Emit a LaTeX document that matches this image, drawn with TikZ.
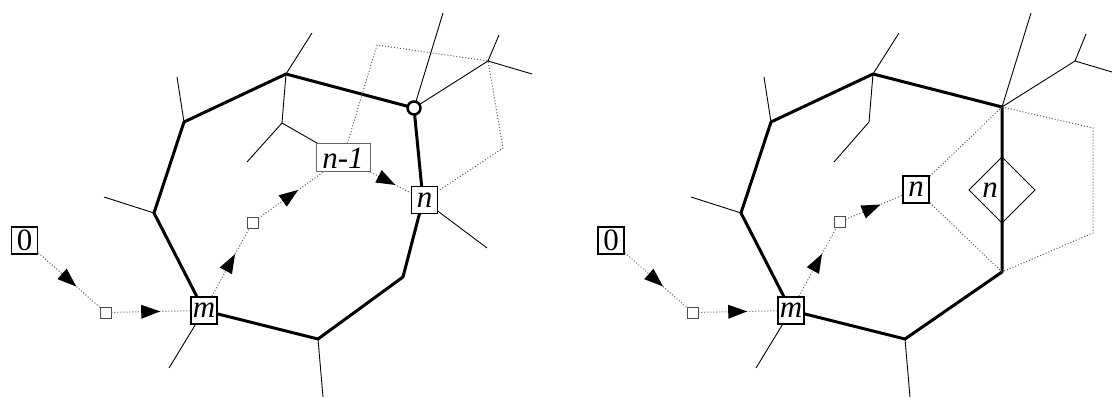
\documentclass[tikz,border=0pt]{standalone}
\usepackage{fontspec}
\setmainfont{Liberation Serif}
\usetikzlibrary{decorations.markings}
\begin{document}
\begin{tikzpicture}[x=1pt,y=-1pt,
  thickedge/.style={line width=3pt,line join=round},
  thinedge/.style={line width=0.9pt},
  dualedge/.style={draw=black!65,line width=1pt,dash pattern=on 1pt off 2pt},
  flow/.style={dualedge,postaction=decorate,decoration={markings,
      mark=at position 0.62 with {\fill[black] (0pt,0pt)--(-19pt,7pt)--(-19pt,-7pt)--cycle;}}},
  vbox/.style={draw,line width=1.8pt,fill=white,minimum width=26pt,minimum height=27pt,inner sep=1pt,
      font=\fontsize{31}{31}\selectfont\itshape},
  zbox/.style={vbox,font=\fontsize{31}{31}\selectfont},
  lbox/.style={draw=black!60,line width=1pt,fill=white,minimum width=54pt,minimum height=28pt,inner sep=1pt,
      font=\fontsize{31}{31}\selectfont\itshape},
  sq/.style={draw=black!70,line width=0.9pt,fill=white,minimum size=11pt,inner sep=0pt},
  vcirc/.style={circle,draw,line width=2.5pt,fill=white,minimum size=13pt,inner sep=0pt},
  plain/.style={inner sep=0pt,font=\fontsize{31}{31}\selectfont\itshape}]
\useasboundingbox (0,0) rectangle (1112,398);

% ---------------- left figure ----------------
\coordinate (Lm) at (204,310.5);
\coordinate (LA) at (154,213);
\coordinate (LB) at (184,122);
\coordinate (LC) at (286,74);
\coordinate (LD) at (414,108);
\coordinate (Ln) at (423,200);
\coordinate (LE) at (403,277);
\coordinate (LF) at (318,339);
\coordinate (LG) at (282,123);
\coordinate (LH) at (488,61);
\coordinate (Lt1) at (104,197);
\coordinate (Lt2) at (177,77);
\coordinate (Lt3) at (312,33);
\coordinate (Lt4) at (247,162);
\coordinate (Lt5) at (443,13);
\coordinate (Lt6) at (499,35);
\coordinate (Lt7) at (532,74);
\coordinate (Lt8) at (487,248);
\coordinate (Lt9) at (169,368);
\coordinate (Lt10) at (323,397);
\coordinate (LP1) at (377,45);
\coordinate (LP2) at (503,148);
\coordinate (Ln1) at (343,158);

\draw[thinedge] (LA)--(Lt1) (LB)--(Lt2) (LC)--(Lt3) (LC)--(LG)--(Lt4) (LG)--(Ln1)
  (LD)--(Lt5) (LD)--(LH)--(Lt6) (LH)--(Lt7) (Ln)--(Lt8) (Lm)--(Lt9) (LF)--(Lt10);
\draw[thickedge] (Lm)--(LA)--(LB)--(LC)--(LD)--(Ln)--(LE)--(LF)--cycle;

\node[zbox] (L0) at (24.5,240.5) {0};
\node[sq] (Ls1) at (105.5,312.5) {};
\node[vbox] (Lmb) at (Lm) {m};
\node[sq] (Ls2) at (252.5,222.5) {};
\node[lbox] (Ln1b) at (Ln1) {n-1};
\node[vbox] (Lnb) at (424.5,200) {n};
\node[vcirc] (LDc) at (LD) {};

\draw[dualedge] (Ln1b)--(LP1)--(LH)--(LP2)--(Lnb);
\draw[flow] (L0)--(Ls1);
\draw[flow] (Ls1)--(Lmb);
\draw[flow] (Lmb)--(Ls2);
\draw[flow] (Ls2)--(Ln1b);
\draw[flow] (Ln1b)--(Lnb);

% ---------------- right figure ----------------
\coordinate (Rm) at (791,310.5);
\coordinate (RA) at (741,213);
\coordinate (RB) at (771,122);
\coordinate (RC) at (873,74);
\coordinate (RD) at (1002,107);
\coordinate (RE) at (1002,272);
\coordinate (RF) at (905,339);
\coordinate (RG) at (869,122);
\coordinate (RH) at (1075,61);
\coordinate (Rt1) at (691,197);
\coordinate (Rt2) at (764,77);
\coordinate (Rt3) at (899,33);
\coordinate (Rt4) at (834,162);
\coordinate (Rt5) at (1031,13);
\coordinate (Rt6) at (1086,34);
\coordinate (Rt7) at (1112,72);
\coordinate (Rt9) at (756,368);
\coordinate (Rt10) at (910,397);
\coordinate (RP1) at (1093,128);
\coordinate (RP2) at (1093,233);

\draw[thinedge] (RA)--(Rt1) (RB)--(Rt2) (RC)--(Rt3) (RC)--(RG)--(Rt4)
  (RD)--(Rt5) (RD)--(RH)--(Rt6) (RH)--(Rt7) (Rm)--(Rt9) (RF)--(Rt10);
\draw[thickedge] (Rm)--(RA)--(RB)--(RC)--(RD)--(RE)--(RF)--cycle;

\draw[thinedge] (1002,157)--(1035,190)--(1002,223)--(969,190)--cycle;
\node[plain] (Rdn) at (990,190) {n};

\node[zbox] (R0) at (611,240.5) {0};
\node[sq] (Rs1) at (692.5,312.5) {};
\node[vbox] (Rmb) at (Rm) {m};
\node[sq] (Rs2) at (839.5,222) {};
\node[vbox] (Rnb) at (916,189.5) {n};

\draw[dualedge] (Rnb)--(RD);
\draw[dualedge] (Rnb)--(RE);
\draw[dualedge] (RD)--(RP1)--(RP2)--(RE);
\draw[flow] (R0)--(Rs1);
\draw[flow] (Rs1)--(Rmb);
\draw[flow] (Rmb)--(Rs2);
\draw[flow] (Rs2)--(Rnb);
\end{tikzpicture}
\end{document}
